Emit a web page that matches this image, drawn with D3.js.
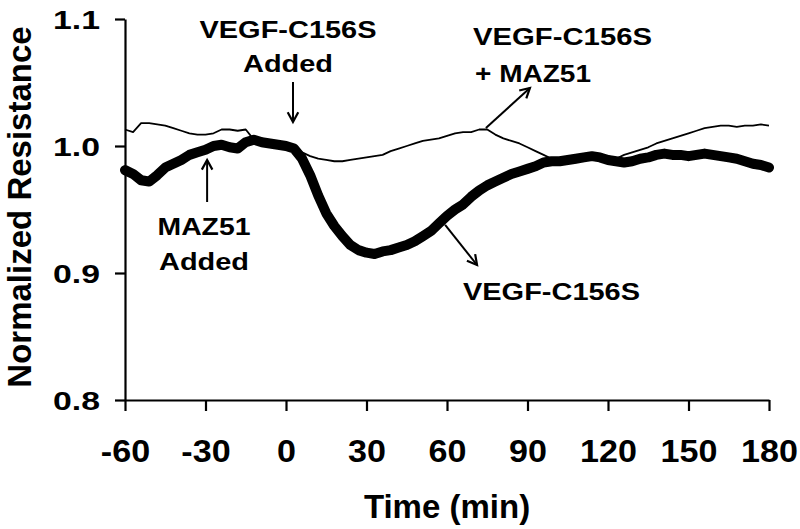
<!DOCTYPE html>
<html><head><meta charset="utf-8">
<script src="https://cdn.jsdelivr.net/npm/d3@7"></script>
<style>
body{margin:0;background:#fff}
text{font-family:"Liberation Sans",Arial,Helvetica,sans-serif;font-weight:bold;fill:#000}
</style>
</head><body>
<svg id="chart" width="800" height="529" style="background:#fff"></svg>
<script>
// Time points (min)
const times = [-60,-57,-54,-51,-48,-45,-42,-39,-36,-33,-30,-27,-24,-21,-18,-15,-12,-9,-6,-3,
  0,3,6,9,12,15,18,21,24,27,30,33,36,39,42,45,48,51,54,57,60,63,66,69,72,75,78,81,84,87,
  90,93,96,99,102,105,108,111,114,117,120,123,126,129,132,135,138,141,144,147,150,153,156,159,
  162,165,168,171,174,177,180];
// VEGF-C156S (thick)
const vegfValues = [0.981,0.978,0.973,0.972,0.977,0.983,0.986,0.989,0.993,0.995,0.997,1.000,1.001,0.999,0.998,1.003,1.005,1.003,1.002,1.001,
  1.000,0.998,0.990,0.977,0.961,0.947,0.937,0.929,0.922,0.918,0.916,0.915,0.917,0.918,0.920,0.922,0.925,0.929,0.933,0.939,0.945,0.950,0.954,0.960,0.965,0.969,0.972,0.975,0.978,0.980,
  0.982,0.984,0.987,0.988,0.988,0.989,0.990,0.991,0.992,0.991,0.989,0.988,0.987,0.988,0.990,0.991,0.993,0.994,0.993,0.993,0.992,0.993,0.994,0.993,
  0.992,0.991,0.990,0.988,0.986,0.985,0.983];
// VEGF-C156S + MAZ51 (thin)
const mazValues = [1.013,1.011,1.018,1.018,1.017,1.016,1.014,1.012,1.010,1.009,1.009,1.010,1.013,1.013,1.012,1.013,1.005,1.003,1.002,1.001,
  1.000,0.999,0.995,0.992,0.990,0.989,0.988,0.988,0.989,0.990,0.991,0.992,0.993,0.996,0.998,1.000,1.002,1.004,1.005,1.006,1.008,1.010,1.011,1.011,1.013,1.013,1.009,1.006,1.004,1.002,
  0.999,0.996,0.993,0.990,0.989,0.989,0.990,0.991,0.991,0.990,0.989,0.990,0.993,0.995,0.997,0.999,1.002,1.004,1.006,1.008,1.010,1.012,1.014,1.015,
  1.016,1.016,1.015,1.016,1.016,1.017,1.016];
const xTicks = [-60,-30,0,30,60,90,120,150,180];
const xTickLabels = ["-60","-30","0","30","60","90","120","150","180"];
const yTicks = [0.8,0.9,1.0,1.1];
const yTickLabels = ["0.8","0.9","1.0","1.1"];

const svg = d3.select("#chart");
const x = d3.scaleLinear().domain([-60,180]).range([125,769]);
const y = d3.scaleLinear().domain([0.8,1.1]).range([400,19]);

function stretch(sel, f){
  sel.each(function(){
    const l = this.getComputedTextLength();
    d3.select(this).attr("textLength", l*f).attr("lengthAdjust","spacingAndGlyphs");
  });
}

// Axes
const gy = svg.append("g").attr("transform","translate(125,0)")
  .call(d3.axisLeft(y).tickValues(yTicks).tickSizeInner(10).tickSizeOuter(0)
    .tickFormat((d,i)=>yTickLabels[i]));
const gx = svg.append("g").attr("transform","translate(0,400)")
  .call(d3.axisBottom(x).tickValues(xTicks).tickSizeInner(11).tickSizeOuter(0)
    .tickFormat((d,i)=>xTickLabels[i]));
[gx,gy].forEach(g=>{
  g.select(".domain").attr("stroke","#000").attr("stroke-width",2.2);
  g.selectAll(".tick line").attr("stroke","#000").attr("stroke-width",2.2);
  g.selectAll("text").attr("font-family",null).attr("font-size",null);
});
gy.selectAll(".tick text").attr("x",-25).attr("dy","0.36em").style("font-size","26px");
stretch(gy.selectAll(".tick text"),1.3);
gx.selectAll(".tick text").attr("y",62).attr("dy",0).style("font-size","31px");
stretch(gx.selectAll(".tick text"),1.1);

// Axis titles
svg.append("text").attr("transform","translate(31,207) rotate(-90)")
  .attr("text-anchor","middle").style("font-size","33px").text("Normalized Resistance");
svg.append("text").attr("x",447).attr("y",518).attr("text-anchor","middle")
  .style("font-size","33px").text("Time (min)");

// Lines
const line = d3.line().x((d,i)=>x(times[i])).y(d=>y(d));
svg.append("path").datum(mazValues).attr("d",line)
  .attr("fill","none").attr("stroke","#000").attr("stroke-width",1.8).attr("stroke-linejoin","round");
svg.append("path").datum(vegfValues).attr("d",line)
  .attr("fill","none").attr("stroke","#000").attr("stroke-width",10)
  .attr("stroke-linejoin","round").attr("stroke-linecap","round");

// Annotations
function arrow(t1,v1,t2,v2){
  const x1=x(t1),y1=y(v1),x2=x(t2),y2=y(v2);
  const a=Math.atan2(y2-y1,x2-x1), L=11, w=0.5;
  svg.append("line").attr("x1",x1).attr("y1",y1).attr("x2",x2).attr("y2",y2)
    .attr("stroke","#000").attr("stroke-width",2);
  svg.append("path").attr("d",`M${x2-L*Math.cos(a-w)},${y2-L*Math.sin(a-w)}L${x2},${y2}L${x2-L*Math.cos(a+w)},${y2-L*Math.sin(a+w)}`)
    .attr("fill","none").attr("stroke","#000").attr("stroke-width",2.2);
}
function label(tx,ty,anchor,len,str){
  svg.append("text").attr("x",tx).attr("y",ty).attr("text-anchor",anchor)
    .style("font-size","24px").attr("textLength",len).attr("lengthAdjust","spacingAndGlyphs").text(str);
}
label(288,38,"middle",177,"VEGF-C156S");
label(288,72,"middle",90,"Added");
arrow(2.6,1.0504,2.6,1.0189);
label(473,45,"start",179,"VEGF-C156S");
label(475,82,"start",116,"+ MAZ51");
arrow(74.5,1.0142,90.9,1.0457);
label(204,235,"middle",93,"MAZ51");
label(204,270,"middle",90,"Added");
arrow(-29.4,0.9559,-29.4,0.989);
label(463,300,"start",177,"VEGF-C156S");
arrow(59.3,0.9378,71.2,0.9063);
</script>
</body></html>
